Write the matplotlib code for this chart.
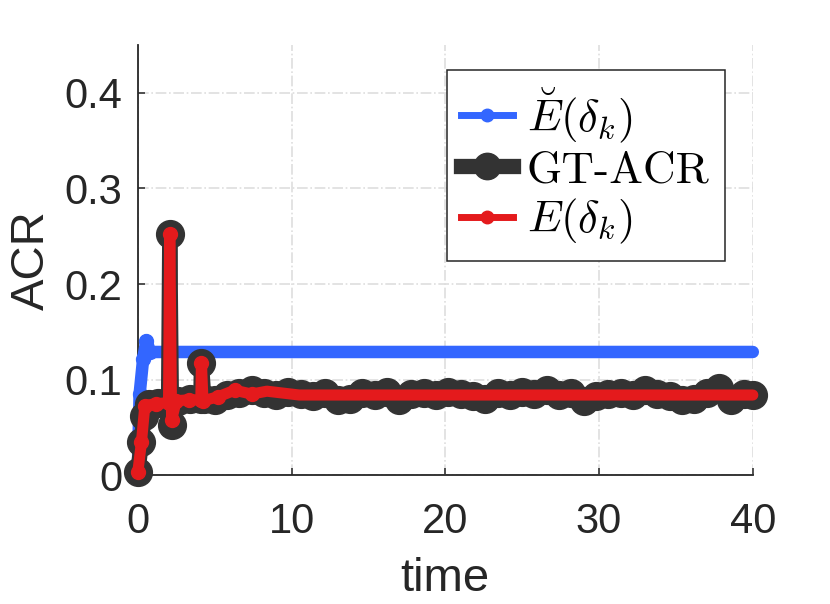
import matplotlib
matplotlib.use('Agg')
import matplotlib.pyplot as plt
from matplotlib.lines import Line2D

plt.rcParams['font.family'] = ['Liberation Sans', 'DejaVu Sans']
plt.rcParams['mathtext.fontset'] = 'cm'

# E-breve (blue)
t_blue = [0, 0.12, 0.35, 0.56, 0.8, 2, 5, 10, 15, 20, 25, 30, 35, 40]
acr_blue = [0.003, 0.085, 0.122, 0.141, 0.129, 0.129, 0.129, 0.129, 0.129,
            0.129, 0.129, 0.129, 0.129, 0.129]

# GT-ACR (dark)
t_gt = [0, 0.24, 0.4, 0.7, 1.3, 2.0, 2.08, 2.2, 2.6, 3.4, 4.1, 4.14, 4.3,
        5.0, 5.8, 6.6, 7.4, 8.2, 9.0, 9.8, 10.6, 11.4, 12.2, 13.0, 13.8,
        14.6, 15.4, 16.2, 17.0, 17.8, 18.6, 19.4, 20.2, 21.0, 21.8, 22.6,
        23.4, 24.2, 25.0, 25.8, 26.6, 27.4, 28.2, 29.0, 29.8, 30.6, 31.4,
        32.2, 33.0, 33.8, 34.6, 35.4, 36.2, 37.0, 37.8, 38.6, 39.4, 40.0]
acr_gt = [0.003, 0.035, 0.062, 0.075, 0.076, 0.076, 0.252, 0.053, 0.078,
          0.080, 0.080, 0.117, 0.080,
          0.079, 0.084, 0.086, 0.089, 0.086, 0.084, 0.087, 0.085, 0.083,
          0.086, 0.079, 0.080, 0.086, 0.084, 0.087, 0.079, 0.085, 0.086,
          0.084, 0.087, 0.085, 0.083, 0.080, 0.086, 0.084, 0.087, 0.085,
          0.089, 0.084, 0.086, 0.078, 0.083, 0.085, 0.086, 0.084, 0.089,
          0.085, 0.083, 0.079, 0.080, 0.086, 0.091, 0.079, 0.085, 0.084]

# E (red)
t_red = [0, 0.24, 0.46, 1.2, 2.0, 2.08, 2.2, 2.5, 3.3, 4.1, 4.14, 4.24, 5.2,
         6.3, 7.4, 8.4, 10.5, 12.6, 14.7, 16.8, 18.9, 21.0, 23.1, 25.2, 27.3,
         29.4, 31.5, 33.6, 35.7, 37.8, 40.0]
acr_red = [0.003, 0.035, 0.073, 0.075, 0.076, 0.252, 0.058, 0.078, 0.079,
           0.079, 0.117, 0.078, 0.082, 0.089, 0.085, 0.088, 0.084, 0.084,
           0.084, 0.084, 0.084, 0.084, 0.084, 0.084, 0.084, 0.084, 0.084,
           0.084, 0.084, 0.084, 0.084]

x_ticks = [0, 10, 20, 30, 40]
y_ticks = [0, 0.1, 0.2, 0.3, 0.4]
y_tick_labels = ['0', '0.1', '0.2', '0.3', '0.4']

labels = [r'$\breve{E}(\delta_k)$', 'GT-ACR', r'$E(\delta_k)$']

blue = '#3366ff'
dark = '#333333'
red = '#e41a1c'
axc = '#262626'

fig, ax = plt.subplots(figsize=(8.3, 6.04), dpi=100)
fig.subplots_adjust(left=0.166, right=0.907, bottom=0.213, top=0.9255)

ax.plot(t_blue, acr_blue, color=blue, lw=9, marker='o', ms=10,
        markevery=slice(0, 5), solid_capstyle='round',
        solid_joinstyle='round', zorder=3, clip_on=False)
ax.plot(t_gt, acr_gt, color=dark, lw=11, marker='o', ms=20,
        solid_capstyle='round', solid_joinstyle='round', zorder=4,
        clip_on=False)
ax.plot(t_red, acr_red, color=red, lw=8, marker='o', ms=10,
        markevery=slice(0, 15), solid_capstyle='round',
        solid_joinstyle='round', zorder=5, clip_on=False)

ax.set_xlim(0, 40)
ax.set_ylim(0, 0.45)
ax.set_xticks(x_ticks)
ax.set_yticks(y_ticks)
ax.set_yticklabels(y_tick_labels)
ax.grid(True, ls='-.', color='#dedede', lw=1.2)
ax.set_axisbelow(True)
for s in ['top', 'right']:
    ax.spines[s].set_visible(False)
for s in ['left', 'bottom']:
    ax.spines[s].set_color(axc)
    ax.spines[s].set_linewidth(1.3)
ax.tick_params(direction='in', length=5, width=1.1, colors=axc,
               labelsize=30)
ax.tick_params(axis='x', pad=19)
ax.tick_params(axis='y', pad=11)
ax.set_xlabel('time', fontsize=34, color=axc, labelpad=11)
ax.set_ylabel('ACR', fontsize=34, color=axc, labelpad=8)

handles = [
    Line2D([], [], color=blue, lw=5, marker='o', ms=9),
    Line2D([], [], color=dark, lw=11, marker='o', ms=19),
    Line2D([], [], color=red, lw=5, marker='o', ms=9),
]
leg = ax.legend(handles, labels, loc='upper right',
                bbox_to_anchor=(0.954, 0.942), borderaxespad=0,
                prop={'family': 'cmr10', 'size': 32.5}, fancybox=False,
                framealpha=1, edgecolor=axc, handlelength=1.15,
                handletextpad=0.3, borderpad=0.33, labelspacing=0.13)
leg.get_frame().set_linewidth(1.1)

fig.savefig('out.png', dpi=100)
